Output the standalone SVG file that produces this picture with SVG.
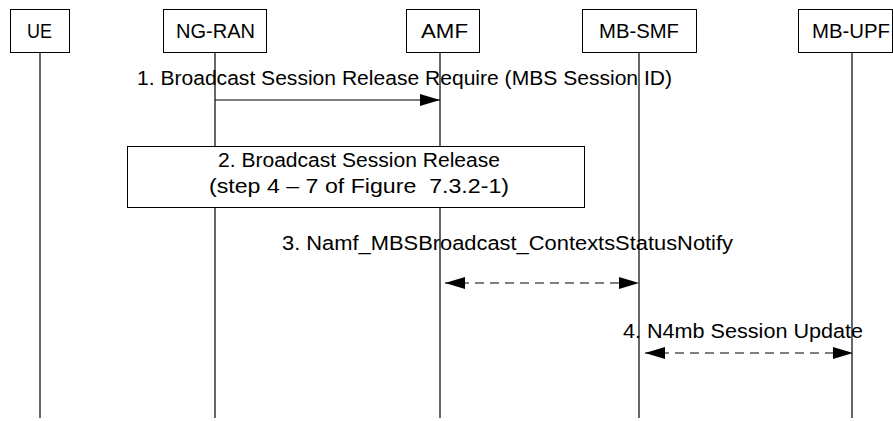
<svg xmlns="http://www.w3.org/2000/svg" width="893" height="421" viewBox="0 0 893 421">
<style>
.box{fill:#fff;stroke:#000;stroke-width:1}
.life{stroke:#000;stroke-width:1.2;fill:none}
.msg{stroke:#000;stroke-width:1.2;fill:none}
.dash{stroke-dasharray:9,6}
text{font-family:"Liberation Sans",Arial,sans-serif;font-size:20px;fill:#000}
</style>
<defs>
<marker id="ah" markerWidth="20" markerHeight="12" refX="20" refY="6" orient="auto" markerUnits="userSpaceOnUse">
<path d="M0,0 L20,6 L0,12 Z" fill="#000"/>
</marker>
<marker id="ahs" markerWidth="20" markerHeight="12" refX="0" refY="6" orient="auto" markerUnits="userSpaceOnUse">
<path d="M20,0 L0,6 L20,12 Z" fill="#000"/>
</marker>
</defs>
<rect width="893" height="421" fill="#fff"/>
<g id="lifelines">
<line class="life" x1="40" y1="52" x2="40" y2="418"/>
<line class="life" x1="215" y1="52" x2="215" y2="418"/>
<line class="life" x1="440" y1="52" x2="440" y2="418"/>
<line class="life" x1="639" y1="52" x2="639" y2="418"/>
<line class="life" x1="852" y1="52" x2="852" y2="418"/>
</g>
<g id="UE"><rect class="box" x="10.5" y="9.5" width="59" height="43"/><text x="27" y="38" textLength="25" lengthAdjust="spacingAndGlyphs">UE</text></g>
<g id="NG-RAN"><rect class="box" x="163.5" y="9.5" width="103" height="43"/><text x="176" y="38" textLength="79" lengthAdjust="spacingAndGlyphs">NG-RAN</text></g>
<g id="AMF"><rect class="box" x="406.5" y="9.5" width="73" height="43"/><text x="421" y="38" textLength="47" lengthAdjust="spacingAndGlyphs">AMF</text></g>
<g id="MB-SMF"><rect class="box" x="582.5" y="9.5" width="114" height="43"/><text x="599" y="38" textLength="80" lengthAdjust="spacingAndGlyphs">MB-SMF</text></g>
<g id="MB-UPF"><rect class="box" x="798.5" y="9.5" width="94" height="43"/><text x="812" y="38" textLength="78" lengthAdjust="spacingAndGlyphs">MB-UPF</text></g>
<g id="step2"><rect class="box" x="127.5" y="146.5" width="457" height="61"/>
<text x="218" y="167" textLength="282" lengthAdjust="spacingAndGlyphs">2. Broadcast Session Release</text>
<text x="209" y="193" textLength="300" lengthAdjust="spacingAndGlyphs">(step 4 – 7 of Figure&#160; 7.3.2-1)</text>
</g>
<g id="connectors">
<line class="msg" x1="215" y1="100" x2="440" y2="100" marker-end="url(#ah)"/>
<text x="137" y="85" textLength="535" lengthAdjust="spacingAndGlyphs">1. Broadcast Session Release Require (MBS Session ID)</text>
<line class="msg dash" x1="445" y1="283" x2="639" y2="283" marker-start="url(#ahs)" marker-end="url(#ah)"/>
<text x="282" y="250" textLength="451" lengthAdjust="spacingAndGlyphs">3. Namf_MBSBroadcast_ContextsStatusNotify</text>
<line class="msg dash" x1="645" y1="353" x2="853" y2="353" marker-start="url(#ahs)" marker-end="url(#ah)"/>
<text x="623" y="338" textLength="240" lengthAdjust="spacingAndGlyphs">4. N4mb Session Update</text>
</g>
</svg>
